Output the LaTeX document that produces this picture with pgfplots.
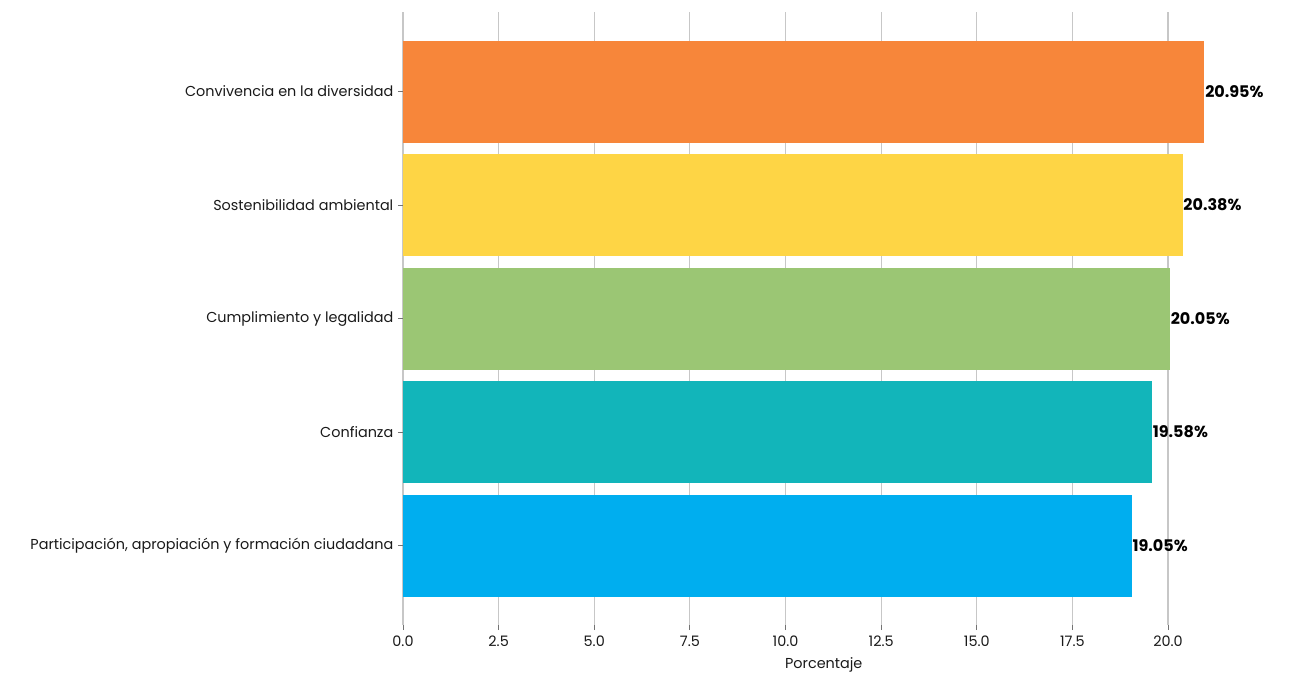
\documentclass[border=0pt]{standalone}
\usepackage{pgfplots}
\pgfplotsset{compat=1.18}
\usepackage{fontspec}
\setmainfont{Poppins}
\definecolor{cOr}{HTML}{F7863A}
\definecolor{cYe}{HTML}{FED545}
\definecolor{cGr}{HTML}{9BC674}
\definecolor{cTe}{HTML}{12B5BA}
\definecolor{cBl}{HTML}{00AEEF}
\begin{document}
\begin{tikzpicture}
\useasboundingbox (-302.25pt,-35.25pt) rectangle (668.25pt,468.75pt);
\begin{axis}[
  x=28.6875pt, y=85.125pt,
  xmin=0, xmax=22, ymin=-0.7, ymax=4.7,
  axis line style={draw=none},
  xbar, bar width=76.5pt,
  xmajorgrids, grid style={black!22, line width=0.8pt},
  xtick={0,2.5,5,7.5,10,12.5,15,17.5,20},
  xtick pos=lower, ytick pos=left,
  tick align=outside, major tick length=3.75pt,
  tick style={black!55, line width=0.6pt},
  ytick={0,1,2,3,4},
  yticklabels={{Participación, apropiación y formación ciudadana},Confianza,{Cumplimiento y legalidad},{Sostenibilidad ambiental},{Convivencia en la diversidad}},
  /pgf/number format/assume math mode=true,
  xticklabel={\pgfmathprintnumber[fixed,fixed zerofill,precision=1]{\tick}},
  tick label style={font=\fontsize{10.8}{13}\selectfont, text=black!90},
  xticklabel style={yshift=-1pt},
  xlabel={Porcentaje},
  xlabel style={font=\fontsize{10.8}{13}\selectfont, text=black!90, yshift=-1pt},
  nodes near coords={\pgfmathprintnumber[fixed,fixed zerofill,precision=2]{\pgfplotspointmeta}\%},
  nodes near coords style={font=\fontsize{12}{14}\selectfont\bfseries, anchor=west, inner xsep=0.5pt, text=black},
  point meta=x,
  clip=false,
]
\addplot[fill=cOr, draw=none, bar shift=0pt] coordinates {(20.95,4)};
\addplot[fill=cYe, draw=none, bar shift=0pt] coordinates {(20.38,3)};
\addplot[fill=cGr, draw=none, bar shift=0pt] coordinates {(20.05,2)};
\addplot[fill=cTe, draw=none, bar shift=0pt] coordinates {(19.58,1)};
\addplot[fill=cBl, draw=none, bar shift=0pt] coordinates {(19.05,0)};
\end{axis}
\end{tikzpicture}
\end{document}
